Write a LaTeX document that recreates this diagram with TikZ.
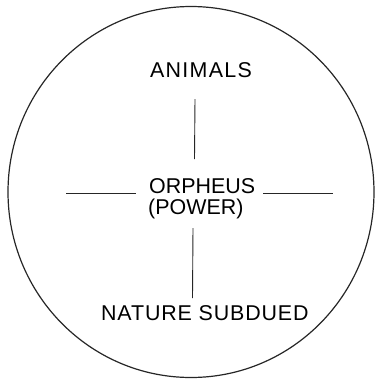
\documentclass[tikz,border=0pt]{standalone}
\usepackage{fontspec}
\setmainfont{Liberation Sans}
\begin{document}
\begin{tikzpicture}[x=1bp,y=-1bp,
  lbl/.style={inner sep=0pt,anchor=base west,font=\fontsize{21.5}{22}\selectfont},
  rule/.style={line width=0.9bp,black!85}]
\useasboundingbox (0,0) rectangle (375,379);
\draw[line width=1.2bp,black!85] (191,192) ellipse [x radius=183,y radius=185.5];
\node[lbl] (animals) at (150,77) {\addfontfeature{LetterSpace=6}ANIMALS};
\node[lbl] (orpheus) at (149,193) {ORPHEUS};
\node[lbl] (power) at (148,214) {(POWER)};
\node[lbl] (nature) at (101,320) {\addfontfeature{LetterSpace=4}NATURE SUBDUED};
\coordinate (t1) at (195,99);
\coordinate (t2) at (194.5,159);
\coordinate (b1) at (193,228);
\coordinate (b2) at (192.5,298);
\coordinate (l1) at (66,193);
\coordinate (l2) at (136,193);
\coordinate (r1) at (263,193);
\coordinate (r2) at (333,193);
\draw[rule] (t1) -- (t2);
\draw[rule] (b1) -- (b2);
\draw[rule] (l1) -- (l2);
\draw[rule] (r1) -- (r2);
\end{tikzpicture}
\end{document}
